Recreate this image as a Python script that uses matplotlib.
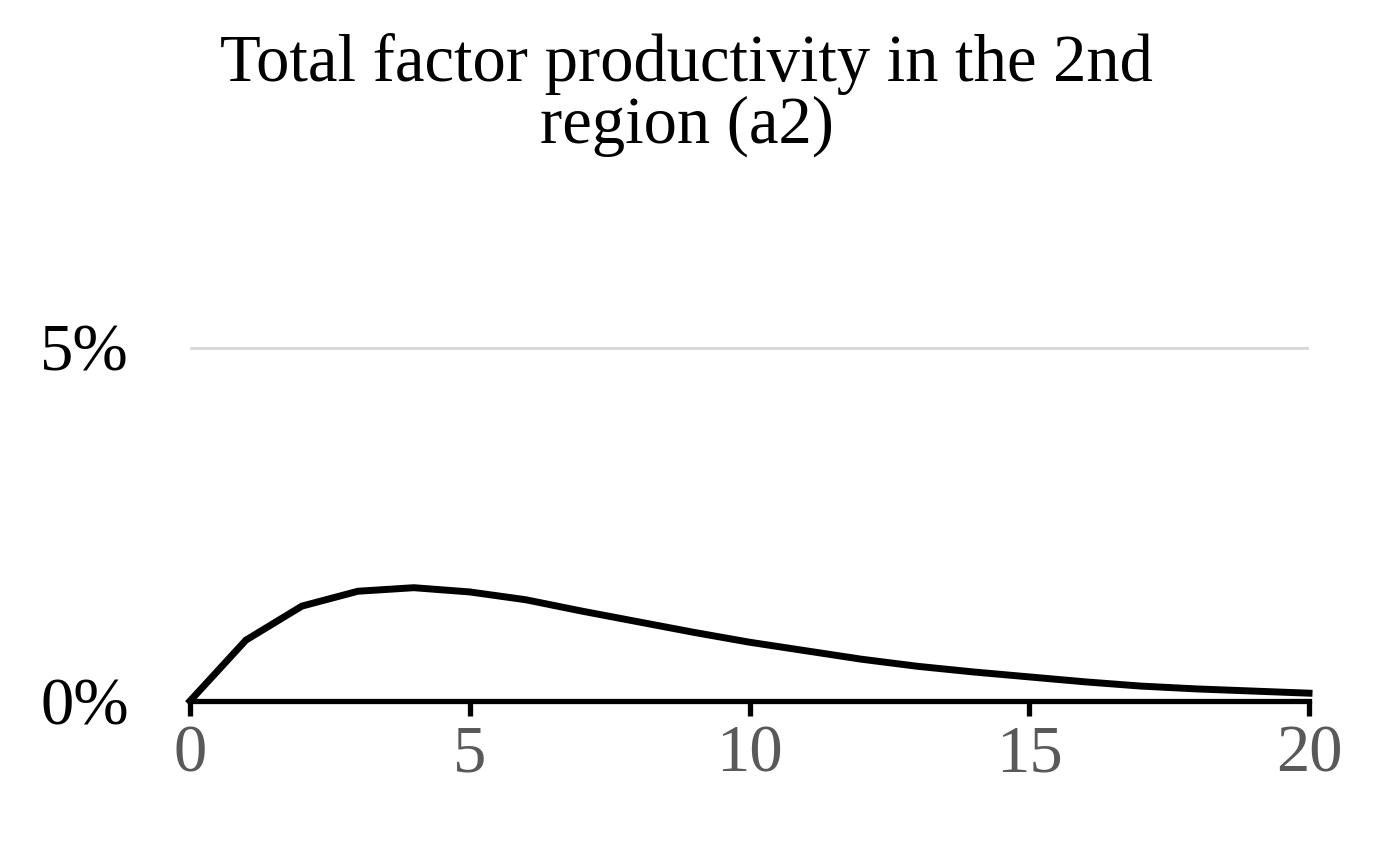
import matplotlib.pyplot as plt
from matplotlib.ticker import FuncFormatter

# ---- data ----
periods = list(range(21))
a2_response = [0.0, 0.86, 1.34, 1.55, 1.60, 1.54, 1.43, 1.27, 1.12, 0.97, 0.83,
               0.71, 0.59, 0.49, 0.41, 0.34, 0.27, 0.21, 0.17, 0.14, 0.11]  # percent
TITLE = "Total factor productivity in the 2nd\nregion (a2)"

plt.rcParams["font.family"] = ["Liberation Serif", "DejaVu Serif"]

fig = plt.figure(figsize=(13.73, 8.41), dpi=100)
ax = fig.add_axes([0.1384, 0.1665, 0.815, 0.4209])

ax.plot(periods, [v / 100 for v in a2_response], color="black", lw=5,
        solid_joinstyle="miter", clip_on=False, zorder=3)

ax.set_xlim(0, 20)
ax.set_ylim(0, 0.05)
ax.set_xticks([0, 5, 10, 15, 20])
ax.set_yticks([0, 0.05])
ax.yaxis.set_major_formatter(FuncFormatter(lambda v, p: f"{v*100:.0f}%"))

ax.grid(axis="y", color="#d9d9d9", lw=3.5)
ax.set_axisbelow(True)
for s in ("top", "right", "left"):
    ax.spines[s].set_visible(False)
ax.spines["bottom"].set_linewidth(3.8)
ax.spines["bottom"].set_zorder(4)

ax.tick_params(axis="x", direction="out", length=11, width=3.8, color="black",
               labelsize=48, labelcolor="#595959", pad=6)
ax.tick_params(axis="y", length=0, labelsize=48, labelcolor="black", pad=44)

fig.text(0.5, 0.887, TITLE, ha="center", va="center", fontsize=48, linespacing=1.0)

fig.savefig("out.png", dpi=100)
